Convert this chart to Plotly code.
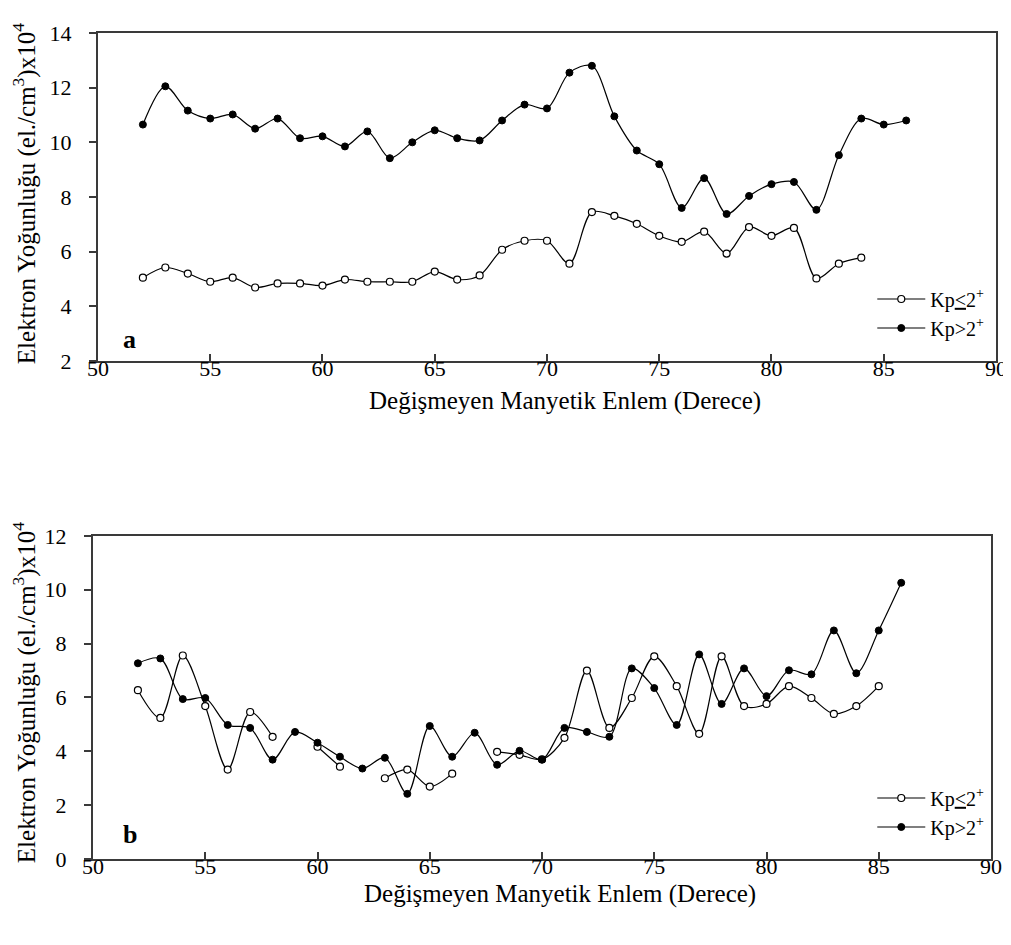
import plotly.graph_objects as go

# ---- data ----
lat_a = list(range(52, 87))
low_a = [5.05, 5.42, 5.2, 4.9, 5.05, 4.69, 4.84, 4.84, 4.76, 4.98, 4.9, 4.9,
         4.9, 5.27, 4.98, 5.13, 6.07, 6.4, 6.4, 5.56, 7.45, 7.31, 7.02, 6.58,
         6.36, 6.73, 5.93, 6.9, 6.58, 6.87, 5.02, 5.56, 5.78, None, None]
high_a = [10.65, 12.05, 11.16, 10.87, 11.02, 10.5, 10.87, 10.15, 10.22, 9.85,
          10.4, 9.42, 10.0, 10.44, 10.15, 10.07, 10.8, 11.38, 11.24, 12.55,
          12.8, 10.95, 9.7, 9.2, 7.6, 8.69, 7.38, 8.04, 8.47, 8.55, 7.53,
          9.53, 10.87, 10.65, 10.8]

lat_b = list(range(52, 87))
low_b = [6.27, 5.24, 7.56, 5.68, 3.32, 5.46, 4.54, None, 4.17, 3.43, None,
         3.0, 3.32, 2.69, 3.17, None, 3.98, 3.87, 3.7, 4.5, 7.0, 4.87, 5.98,
         7.53, 6.42, 4.65, 7.53, 5.68, 5.76, 6.42, 5.98, 5.39, 5.68, 6.42, None]
high_b = [7.27, 7.45, 5.94, 5.98, 4.98, 4.87, 3.69, 4.72, 4.32, 3.8, 3.36,
          3.76, 2.42, 4.94, 3.8, 4.69, 3.5, 4.02, 3.69, 4.87, 4.72, 4.54,
          7.08, 6.35, 4.98, 7.6, 5.76, 7.08, 6.05, 7.01, 6.86, 8.49, 6.9,
          8.49, 10.26]

name_low = "Kp<u>&lt;</u>2<sup>+</sup>"
name_high = "Kp&gt;2<sup>+</sup>"
x_title = "Değişmeyen Manyetik Enlem (Derece)"
y_title = "Elektron Yoğunluğu (el./cm<sup>3</sup>)x10<sup>4</sup>"
x_ticks = [50, 55, 60, 65, 70, 75, 80, 85, 90]

FONT = "Liberation Serif, Times New Roman, serif"

fig = go.Figure()


def add_pair(x, lo, hi, xa, ya, leg):
    fig.add_trace(go.Scatter(
        x=x, y=lo, name=name_low, mode="lines+markers", xaxis=xa, yaxis=ya,
        legend=leg, connectgaps=False,
        line=dict(color="black", width=1.2, shape="spline", smoothing=0.9),
        marker=dict(symbol="circle", size=7, color="white",
                    line=dict(color="black", width=1.2))))
    fig.add_trace(go.Scatter(
        x=x, y=hi, name=name_high, mode="lines+markers", xaxis=xa, yaxis=ya,
        legend=leg, connectgaps=False,
        line=dict(color="black", width=1.2, shape="spline", smoothing=0.9),
        marker=dict(symbol="circle", size=7, color="black",
                    line=dict(color="black", width=1))))


add_pair(lat_a, low_a, high_a, "x", "y", "legend")
add_pair(lat_b, low_b, high_b, "x2", "y2", "legend2")

OFF = 8  # page body offset
W, H = 1011, 945
ML, MT = 93 - OFF, 27 - OFF
MR, MB = 13 + OFF, 86 + OFF
PW, PH = W - ML - MR, H - MT - MB


def fx(px):
    return (px - OFF - ML) / PW


def fy(py):
    return (H - MB - (py - OFF)) / PH


axis_common = dict(
    showline=True, linecolor="#3a3a3a", linewidth=2, mirror=True,
    showgrid=False, zeroline=False, ticklen=7, tickcolor="#3a3a3a",
    tickwidth=1.5, tickfont=dict(family=FONT, size=22, color="black"),
)

fig.update_layout(
    width=W, height=H,
    margin=dict(l=ML, r=MR, t=MT, b=MB),
    paper_bgcolor="white", plot_bgcolor="white",
    font=dict(family=FONT, color="black"),
    xaxis=dict(domain=[fx(98), fx(998)], range=[50, 90], anchor="y",
               tickvals=x_ticks, ticks="inside", ticklabelstandoff=-13,
               **axis_common),
    yaxis=dict(domain=[fy(358), fy(28)], range=[2, 14], anchor="x",
               dtick=2, ticks="outside", ticklabelstandoff=13, **axis_common),
    xaxis2=dict(domain=[fx(93), fx(993)], range=[50, 90], anchor="y2",
                tickvals=x_ticks, ticks="inside", ticklabelstandoff=-13,
                **axis_common),
    yaxis2=dict(domain=[fy(859), fy(534)], range=[0, 12], anchor="x2",
                dtick=2, ticks="outside", ticklabelstandoff=13, **axis_common),
    legend=dict(x=fx(874), y=fy(276), xanchor="left", yanchor="top",
                bgcolor="rgba(0,0,0,0)", itemwidth=48, tracegroupgap=0,
                font=dict(family=FONT, size=20, color="black")),
    legend2=dict(x=fx(874), y=fy(778), xanchor="left", yanchor="top",
                 bgcolor="rgba(0,0,0,0)", itemwidth=48, tracegroupgap=0,
                 font=dict(family=FONT, size=20, color="black")),
    showlegend=True,
)

TF = dict(family=FONT, size=25, color="black")
annots = [
    dict(text=x_title, x=fx(566), y=fy(398), xref="paper", yref="paper",
         xanchor="center", yanchor="middle", showarrow=False, font=TF),
    dict(text=x_title, x=fx(561), y=fy(894), xref="paper", yref="paper",
         xanchor="center", yanchor="middle", showarrow=False, font=TF),
    dict(text=y_title, x=fx(24), y=fy(190), xref="paper", yref="paper",
         xanchor="center", yanchor="middle", showarrow=False, textangle=-90,
         font=TF),
    dict(text=y_title, x=fx(24), y=fy(692), xref="paper", yref="paper",
         xanchor="center", yanchor="middle", showarrow=False, textangle=-90,
         font=TF),
    dict(text="<b>a</b>", x=fx(130), y=fy(336), xref="paper", yref="paper",
         xanchor="center", yanchor="middle",
         showarrow=False, font=dict(family=FONT, size=26, color="black")),
    dict(text="<b>b</b>", x=fx(130), y=fy(834), xref="paper", yref="paper",
         xanchor="center", yanchor="middle",
         showarrow=False, font=dict(family=FONT, size=26, color="black")),
]
fig.update_layout(annotations=annots)

fig.write_html("out.html")
